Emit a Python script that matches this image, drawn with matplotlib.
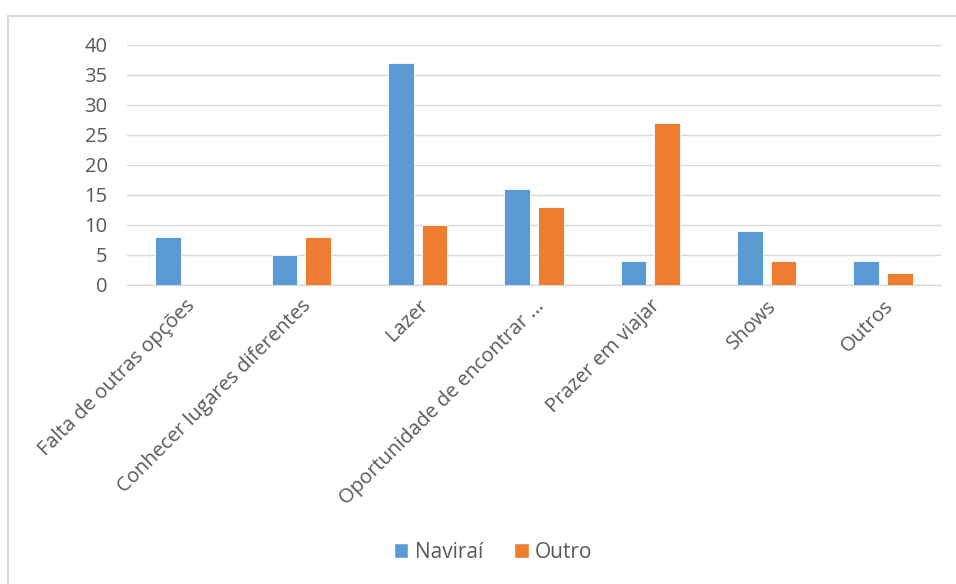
"""
Motivos de viagem - Naviraí x Outro
"""
import matplotlib.pyplot as plt
from matplotlib.lines import Line2D
from matplotlib.patches import Patch
import numpy as np

plt.rcParams['font.family'] = ['Open Sans', 'DejaVu Sans']

categorias = ['Falta de outras opções', 'Conhecer lugares diferentes', 'Lazer',
              'Oportunidade de encontrar ...', 'Prazer em viajar', 'Shows', 'Outros']
naviraí = [8, 5, 37, 16, 4, 9, 4]
outro = [0, 8, 10, 13, 27, 4, 2]
y_ticks = [0, 5, 10, 15, 20, 25, 30, 35, 40]

cor_azul = '#5B9BD5'
cor_laranja = '#ED7D31'
cor_texto = '#595959'
cor_grade = '#D9D9D9'

fig = plt.figure(figsize=(9.56, 5.84), dpi=100)
ax = fig.add_axes([127 / 956, 1 - 285 / 584, 814 / 956, 240 / 584])

x = np.arange(len(categorias))
largura = 0.22
ax.bar(x - 0.145, naviraí, largura, color=cor_azul, edgecolor='white', linewidth=0.6, zorder=3)
ax.bar(x + 0.145, outro, largura, color=cor_laranja, edgecolor='white', linewidth=0.6, zorder=3)

ax.set_xlim(-0.5, len(categorias) - 0.5)
ax.set_ylim(0, 40)
ax.set_yticks(y_ticks)
ax.set_yticklabels([str(v) for v in y_ticks], fontsize=14.5, color=cor_texto)
ax.set_xticks(x)
ax.set_xticklabels(categorias, rotation=45, ha='right', va='top',
                   rotation_mode='anchor', fontsize=14.5, color=cor_texto)
ax.tick_params(axis='both', length=0)
ax.tick_params(axis='y', pad=14)
ax.tick_params(axis='x', pad=8)

ax.grid(axis='y', color=cor_grade, linewidth=1, zorder=0)
for lado in ['top', 'right', 'left']:
    ax.spines[lado].set_visible(False)
ax.spines['bottom'].set_color(cor_grade)
ax.spines['bottom'].set_linewidth(1)

# legenda
handles = [Patch(facecolor=cor_azul, edgecolor='white', label='Naviraí'),
           Patch(facecolor=cor_laranja, edgecolor='white', label='Outro')]
fig.legend(handles=handles, loc='center', bbox_to_anchor=(493 / 956, 1 - 552 / 584),
           ncol=2, frameon=False, fontsize=15, handlelength=0.7, handleheight=0.7,
           handletextpad=0.3, columnspacing=1.5, labelcolor=cor_texto)

# moldura do gráfico
fig.add_artist(Line2D([8 / 956, 1], [1 - 16 / 584, 1 - 16 / 584], color=cor_grade, linewidth=1.5))
fig.add_artist(Line2D([8 / 956, 8 / 956], [0, 1 - 16 / 584], color=cor_grade, linewidth=1.5))

plt.savefig('out.png', dpi=100)
